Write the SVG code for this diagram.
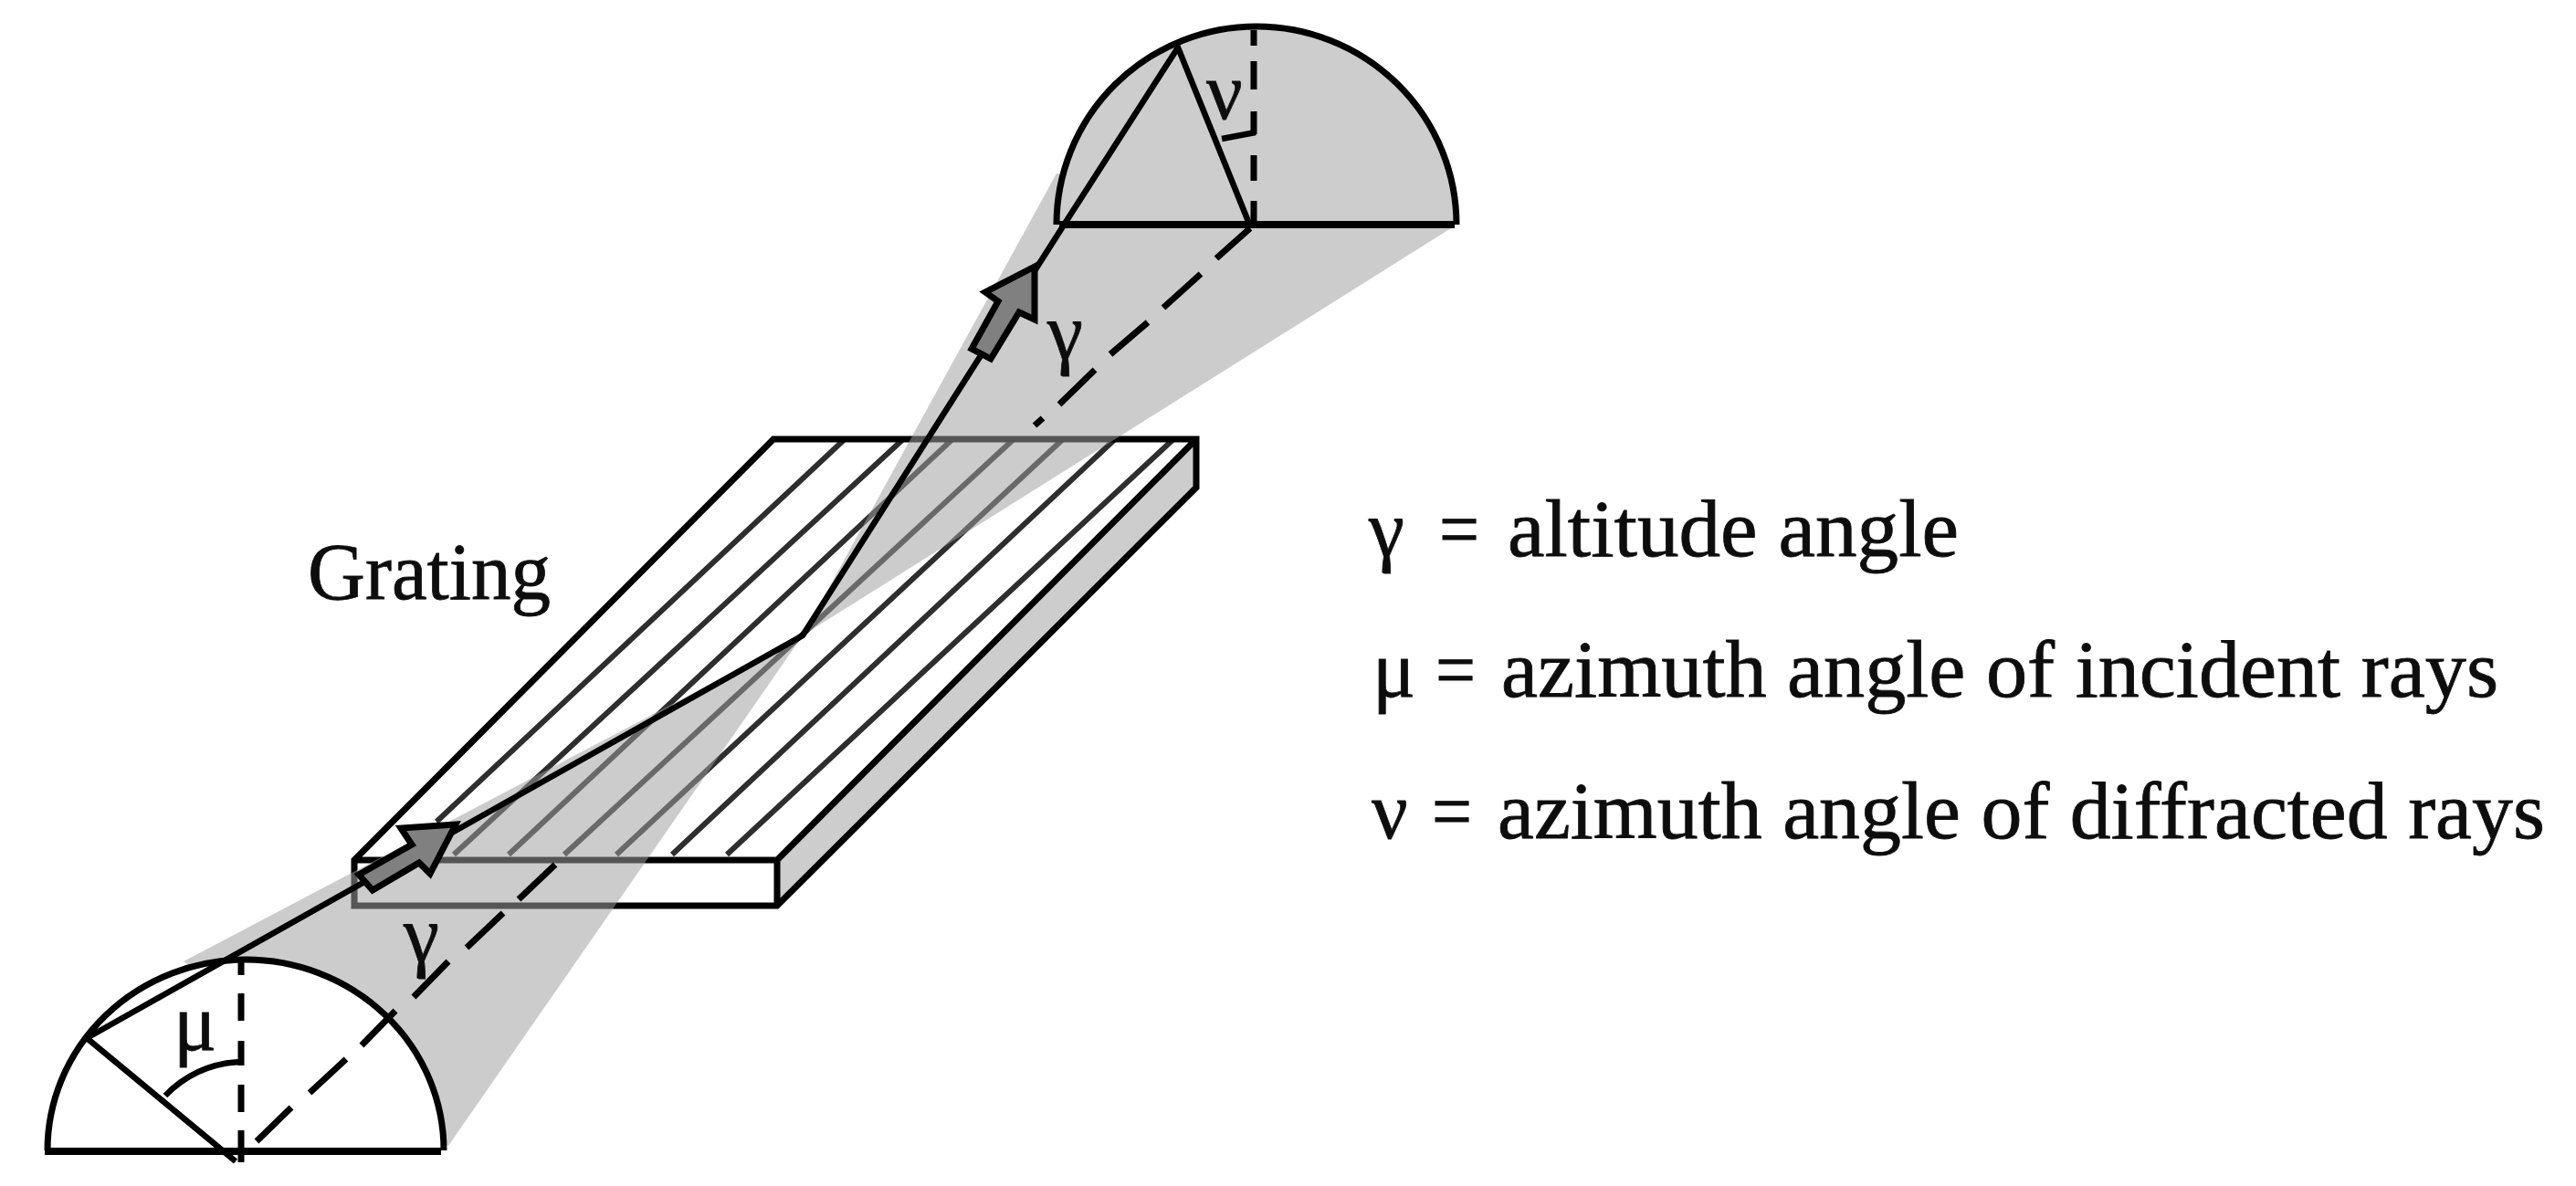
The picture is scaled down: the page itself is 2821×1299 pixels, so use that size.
<svg xmlns="http://www.w3.org/2000/svg" width="2821" height="1299" viewBox="0 0 2821 1299">
<defs><filter id="soft" filterUnits="userSpaceOnUse" x="0" y="0" width="2821" height="1299"><feGaussianBlur stdDeviation="0.7"/></filter></defs>
<style>
.o{fill:none;stroke:#000;stroke-width:7;stroke-linejoin:miter}
.t{fill:none;stroke:#000;stroke-width:6.5;stroke-linecap:butt}
.g{stroke:#2d2d2d;stroke-width:6;fill:none}
.d{fill:none;stroke:#000;stroke-width:7}
.s{fill:#9f9f9f;fill-opacity:.53;stroke:none}
.a{fill:#808080;stroke:#000;stroke-width:7;stroke-linejoin:miter}
text{font-family:"Liberation Serif","Times New Roman",serif;fill:#111;stroke:#111;stroke-width:.8;font-size:88px}
</style>
<rect width="2821" height="1299" fill="#fff"/>
<g filter="url(#soft)">
<g id="grating">
<path d="M851 942L1310 481V534L851 992Z" fill="#cdcdcd" stroke="none"/>
<path d="M847 481H1310L851 942H388Z" fill="#fff" stroke="none"/>
<rect x="388" y="942" width="463" height="50" fill="#fff" stroke="none"/>
<path class="g" d="M924 482L478 900M988 482L497 936M1042 482L557 936M1109 482L618 936M1163 482L675 936M1220 482L736 936M1284 482L796 936"/>
<path class="o" d="M388 942L847 481H1310V534L851 992H388ZM388 942H851V992M851 942L1310 481"/>
</g>
<g id="shade">
<path class="s" d="M201 1053L879 696L491 1255Z"/>
<path class="s" d="M879 696L1157 190L1589 250Z"/>
</g>
<g id="dome-incident">
<path d="M52 1260A217 209 0 0 1 486 1260" fill="#fff" stroke="#000" stroke-width="7"/>
<path d="M49 1261H483" class="o" style="stroke-width:8"/>
</g>
<g id="dome-diffracted">
<path d="M1157 246A219 217 0 0 1 1595 246Z" fill="#cdcdcd" stroke="none"/>
<path d="M1157 246A219 217 0 0 1 1595 246" class="o"/>
<path d="M1160 246H1593" class="o" style="stroke-width:8"/>
</g>
<g id="connectors">
<path class="t" d="M95 1137L879 696L1164 248L1290 52L1368 245M95 1137L258 1272"/>
<path class="d" d="M264 1052V1068M264 1088V1118M264 1140V1167M264 1188V1218M264 1238V1273"/>
<path class="d" d="M281 1250L319 1213M339 1197L379 1160M396 1145L433 1107M453 1092L491 1053M511 1038L551 1000M568 985L608 947"/>
<path class="d" d="M1373 33V50M1373 67V98M1373 122V147M1373 170V198M1373 220V247"/>
<path class="d" d="M1369 250L1332 283M1315 300L1274 337M1257 353L1216 388M1199 405L1160 443M1142 458L1133 466"/>
<path class="t" d="M181 1200Q215 1165 264 1163M1338 152L1375 145"/>
</g>
<g id="arrow-incident"><path class="a" d="M499 903L439 907L451 925L393 958L408 975L459 945L471 957Z"/></g>
<g id="arrow-diffracted"><path class="a" d="M1133 292L1079 320L1093 330L1064 382L1085 393L1116 342L1133 350Z"/></g>
<g id="labels">
<text x="337" y="656" textLength="266" lengthAdjust="spacingAndGlyphs">Grating</text>
<text x="442" y="1053">γ</text>
<text x="1147" y="393">γ</text>
<text x="190" y="1150">μ</text>
<text x="1321" y="130">ν</text>
<text x="1499" y="609">γ</text><text x="1576" y="609" textLength="44" lengthAdjust="spacingAndGlyphs">=</text>
<text x="1651" y="609" textLength="494" lengthAdjust="spacingAndGlyphs">altitude angle</text>
<text x="1503" y="763">μ</text><text x="1572" y="763" textLength="44" lengthAdjust="spacingAndGlyphs">=</text>
<text x="1644" y="763" textLength="1092" lengthAdjust="spacingAndGlyphs">azimuth angle of incident rays</text>
<text x="1502" y="918">ν</text><text x="1568" y="918" textLength="44" lengthAdjust="spacingAndGlyphs">=</text>
<text x="1640" y="918" textLength="1147" lengthAdjust="spacingAndGlyphs">azimuth angle of diffracted rays</text>
</g>
</g>
</svg>
